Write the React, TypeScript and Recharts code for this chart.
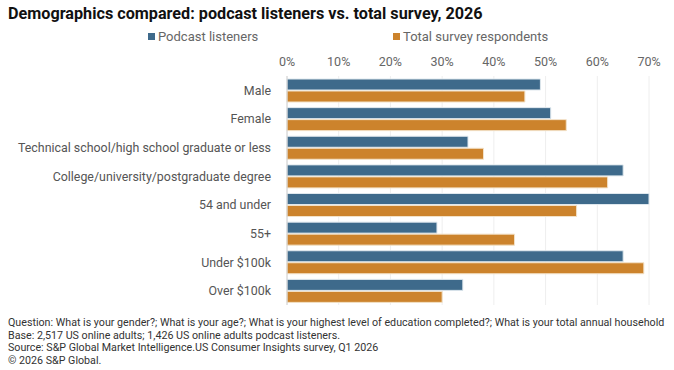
import React from "react"
import { BarChart, Bar, XAxis, YAxis, CartesianGrid } from "recharts"

const categories = [
  "Male",
  "Female",
  "Technical school/high school graduate or less",
  "College/university/postgraduate degree",
  "54 and under",
  "55+",
  "Under $100k",
  "Over $100k",
]
const podcastListeners = [49, 51, 35, 65, 70, 29, 65, 34]
const totalRespondents = [46, 54, 38, 62, 56, 44, 69, 30]
const xTicks = [0, 10, 20, 30, 40, 50, 60, 70]

const footnotes = [
  "Question: What is your gender?; What is your age?; What is your highest level of education completed?; What is your total annual household",
  "Base: 2,517 US online adults; 1,426 US online adults podcast listeners.",
  "Source: S&P Global Market Intelligence.US Consumer Insights survey, Q1 2026",
  "© 2026 S&P Global.",
]

const BLUE = "#3e6a8b"
const ORANGE = "#cc832c"
const FONT = "Roboto, 'Liberation Sans', sans-serif"

const data = categories.map((name, i) => ({
  name,
  podcast: podcastListeners[i],
  total: totalRespondents[i],
}))

// single-line category label, recharts would wrap the long one otherwise
function CategoryTick(props: any) {
  const { x, y, payload } = props
  return (
    <text x={x} y={y} dy={4.5} textAnchor="end" fill="#555" fontSize={12.4} fontFamily={FONT}>
      {payload.value}
    </text>
  )
}

export default function App() {
  return (
    <div
      style={{
        position: "fixed",
        top: 0,
        left: 0,
        width: 674,
        height: 370,
        background: "#fff",
        fontFamily: FONT,
        overflow: "hidden",
      }}
    >
      <div
        style={{
          position: "absolute",
          left: 8,
          top: 4,
          fontSize: 16.2,
          fontWeight: 700,
          color: "#111",
          whiteSpace: "nowrap",
        }}
      >
        Demographics compared: podcast listeners vs. total survey, 2026
      </div>

      {/* legend */}
      <div style={{ position: "absolute", left: 148, top: 29, fontSize: 13, color: "#666", display: "flex", alignItems: "center" }}>
        <span style={{ width: 7, height: 7, background: BLUE, marginRight: 3, display: "inline-block" }} />
        Podcast listeners
      </div>
      <div style={{ position: "absolute", left: 393, top: 29, fontSize: 13, color: "#666", display: "flex", alignItems: "center" }}>
        <span style={{ width: 7, height: 7, background: ORANGE, marginRight: 3, display: "inline-block" }} />
        Total survey respondents
      </div>

      <div style={{ position: "absolute", left: 0, top: 0 }}>
        <BarChart
          width={674}
          height={310}
          data={data}
          layout="vertical"
          margin={{ top: 46, right: 25, bottom: 5, left: 0 }}
          barSize={11}
          barGap={1}
        >
          <CartesianGrid horizontal={false} stroke="#eeeeee" />
          <XAxis
            type="number"
            orientation="top"
            domain={[0, 70]}
            ticks={xTicks}
            tickFormatter={(v) => `${v}%`}
            axisLine={false}
            tickLine={false}
            tickSize={0}
            tickMargin={10}
            height={30}
            tick={{ fill: "#666", fontSize: 12.5, fontFamily: FONT }}
          />
          <YAxis
            type="category"
            dataKey="name"
            width={287}
            axisLine={{ stroke: "#d0d0d0" }}
            tickLine={false}
            tickMargin={10}
            tick={<CategoryTick />}
            interval={0}
          />
          <Bar dataKey="podcast" fill={BLUE} stroke="#dfe8ee" strokeWidth={1} isAnimationActive={false} />
          <Bar dataKey="total" fill={ORANGE} stroke="#f3e2c8" strokeWidth={1} isAnimationActive={false} />
        </BarChart>
      </div>

      <div
        style={{
          position: "absolute",
          left: 8,
          top: 317,
          fontSize: 10.7,
          lineHeight: "12.6px",
          color: "#333",
          whiteSpace: "nowrap",
        }}
      >
        {footnotes.map((line) => (
          <div key={line}>{line}</div>
        ))}
      </div>
    </div>
  )
}
